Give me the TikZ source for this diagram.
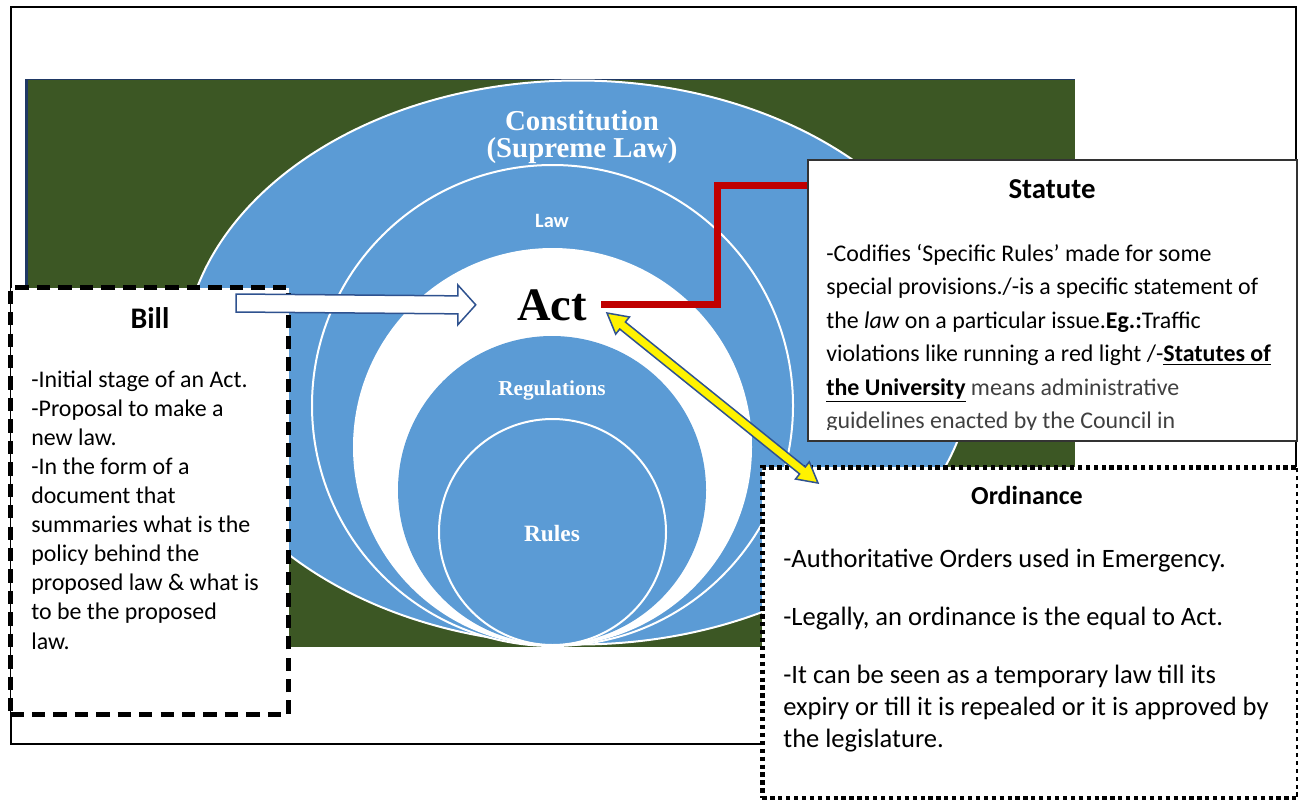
\documentclass[tikz,border=0pt]{standalone}
\usepackage{fontspec}
\setmainfont{Carlito}
\newfontfamily\timesfont{Liberation Serif}
\usetikzlibrary{calc}
\definecolor{green1}{RGB}{60,87,36}
\definecolor{blue1}{RGB}{91,155,213}
\definecolor{navy1}{RGB}{31,56,100}
\definecolor{edge1}{RGB}{47,82,143}
\definecolor{red1}{RGB}{192,0,0}
\definecolor{grey1}{RGB}{64,64,64}
\newcommand{\fsz}[2]{\fontsize{#1pt}{#2pt}\selectfont}

\tikzset{
  ring/.style={fill=blue1, draw=white, line width=0.4mm},
  ringtext/.style={text=white, inner sep=0pt, anchor=base, align=center},
  boxtitle/.style={anchor=base, inner sep=0pt},
  bodytext/.style={anchor=base west, inner sep=0pt, align=left},
}

\begin{document}
\begin{tikzpicture}[x=0.2mm, y=-0.2mm]
  \useasboundingbox (0,0) rectangle (1298,799);
  % frame and background
  \draw[line width=0.35mm] (11,7) rectangle (1296,744);
  \fill[green1] (25,79) rectangle (1075,647);
  \draw[navy1, line width=0.2mm] (25,79) -- (1075,79);
  \draw[navy1, line width=0.6mm] (26.5,79) -- (26.5,647);
  % nested target
  \begin{scope}
    \clip (25,79) rectangle (1075,647);
    \draw[ring] (578,362.5) ellipse [x radius=395, y radius=282];
    \draw[ring] (552.5,405.5) circle [radius=240.5];
    \fill[white] (552.5,447) ellipse [x radius=199.5, y radius=199];
    \fill[blue1] (552,490) circle [radius=154];
    \draw[ring] (552.5,532) ellipse [x radius=113.5, y radius=113];
  \end{scope}
  % multi-line nodes sit on their last baseline
  \node[ringtext, font=\timesfont\bfseries\fsz{16.4}{15.3}] (const) at (582,157) {Constitution\\(Supreme Law)};
  \node[ringtext, font=\bfseries\fsz{11.6}{12}] (law) at (552,227) {Law};
  \node[ringtext, font=\timesfont\bfseries\fsz{12.1}{13}] (regs) at (552,395) {Regulations};
  \node[ringtext, font=\timesfont\bfseries\fsz{13.3}{14}] (rules) at (552,541) {Rules};
  \node[boxtitle, font=\timesfont\bfseries\fsz{26.5}{28}] (act) at (552,320) {Act};
  % statute link
  \node[draw=black!80, line width=0.3mm, fill=white, anchor=north west,
        minimum width=97.8mm, minimum height=56.2mm] (statute) at (807,159) {};
  \draw[red1, line width=1.4mm] ($(act.east)+(14,0)$) -- ++(116,0)
        |- ($(statute.north west)+(0,26)$);
  \node[boxtitle, font=\bfseries\fsz{16.4}{17}] (stattitle) at (1052,198) {Statute};
  \begin{scope}
    \clip (807,159) rectangle (1296,429);
    \node[bodytext, font=\fsz{13.6}{19}] (statbody) at (826,428.5)
      {-Codifies ‘Specific Rules’ made for some\\
       special provisions./-is a specific statement of\\
       the \textit{law} on a particular issue.\textbf{Eg.:}Traffic\\
       violations like running a red light /-\textbf{\underline{Statutes of}}\\
       \textbf{\underline{the University}} \textcolor{grey1}{means administrative}\\
       \textcolor{grey1}{guidelines enacted by the Council in}};
  \end{scope}
  % bill
  \node[draw, line width=1.0mm, dash pattern=on 7.6pt off 4.6pt, fill=white, anchor=north west,
        minimum width=55.6mm, minimum height=85.4mm] (bill) at (8,285) {};
  \node[boxtitle, font=\bfseries\fsz{17}{18}] (billtitle) at (150,328) {Bill};
  \node[bodytext, font=\fsz{13.6}{16.55}] (billbody) at (31,649)
    {-Initial stage of an Act.\\
     -Proposal to make a\\
     new law.\\
     -In the form of a\\
     document that\\
     summaries what is the\\
     policy behind the\\
     proposed law \& what is\\
     to be the proposed\\
     law.};
  \coordinate (billtail) at (236,303);
  \coordinate (billtip) at ($(act.west)+(-41,0)$);
  \draw[edge1, fill=white, line width=0.3mm] ($(billtail)+(0,-9)$) -- ($(billtip)+(-18,-9)$)
    -- ($(billtip)+(-18,-20)$) -- (billtip) -- ($(billtip)+(-18,20)$)
    -- ($(billtip)+(-18,9)$) -- ($(billtail)+(0,9)$) -- cycle;
  % ordinance
  \node[draw, line width=0.95mm, dash pattern=on 2.4pt off 2.1pt, fill=white, anchor=north west,
        minimum width=107.2mm, minimum height=66.2mm] (ord) at (760,465) {};
  \node[boxtitle, font=\bfseries\fsz{14.8}{16}] (ordtitle) at (1027,504) {Ordinance};
  \node[bodytext, font=\fsz{15.1}{18.1}] (ordbody) at (783,747)
    {-Authoritative Orders used in Emergency.\\[15pt]
     -Legally, an ordinance is the equal to Act.\\[15pt]
     -It can be seen as a temporary law till its\\
     expiry or till it is repealed or it is approved by\\
     the legislature.};
  % act <-> ordinance
  \coordinate (ya) at (607,313);
  \coordinate (yb) at (818,483);
  \draw[edge1, fill=yellow, line width=0.3mm] (ya)
    -- ($(ya)!4mm!(yb)!2.2mm!90:(yb)$) -- ($(ya)!4mm!(yb)!0.9mm!90:(yb)$)
    -- ($(yb)!4mm!(ya)!0.9mm!-90:(ya)$) -- ($(yb)!4mm!(ya)!2.2mm!-90:(ya)$)
    -- (yb)
    -- ($(yb)!4mm!(ya)!2.2mm!90:(ya)$) -- ($(yb)!4mm!(ya)!0.9mm!90:(ya)$)
    -- ($(ya)!4mm!(yb)!0.9mm!-90:(yb)$) -- ($(ya)!4mm!(yb)!2.2mm!-90:(yb)$)
    -- cycle;
\end{tikzpicture}
\end{document}
